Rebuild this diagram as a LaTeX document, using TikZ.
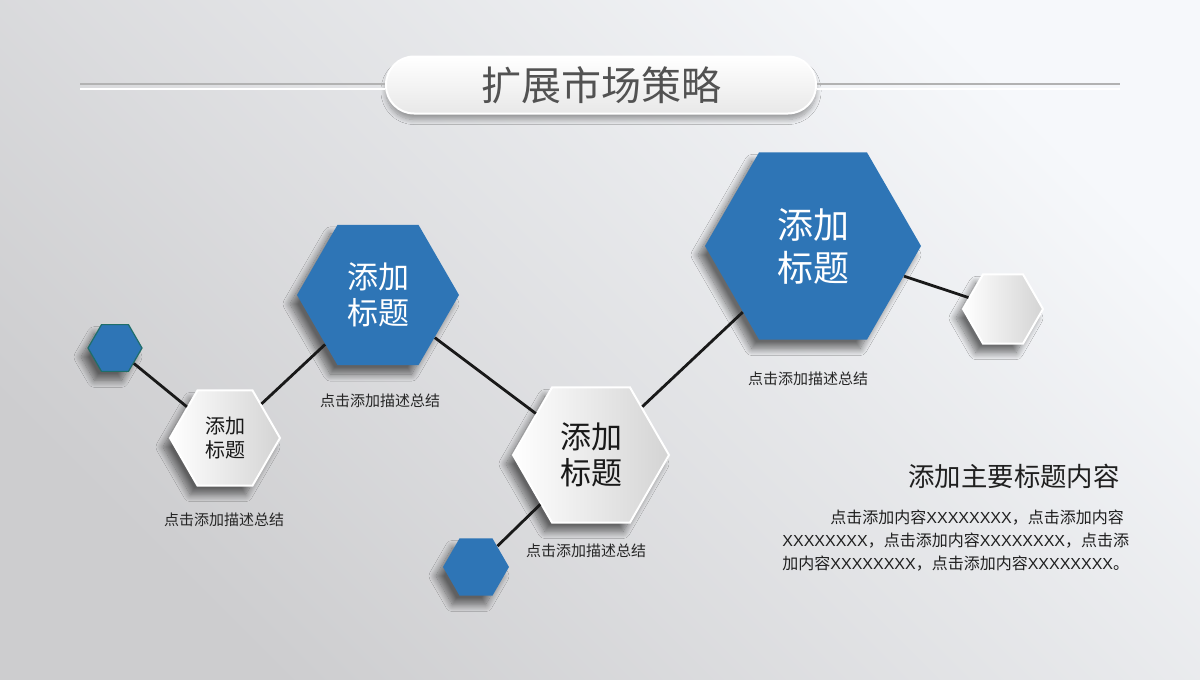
\documentclass[tikz,border=0pt]{standalone}
\usepackage{fontspec}
\setmainfont{Noto Sans CJK SC}
\newfontfamily\latinfont{Liberation Sans}
\usetikzlibrary{shapes.geometric,shadows.blur}
\definecolor{hexblue}{HTML}{2E75B6}
\definecolor{hexrim}{HTML}{1F6E6A}
\definecolor{bglight}{HTML}{F6F8FB}
\definecolor{bgdark}{HTML}{CDCDCF}
\newcommand{\xs}{{\latinfont XXXXXXXX}}
\tikzset{
  hexbase/.style={regular polygon, regular polygon sides=6, inner sep=0pt, align=center,
    blur shadow={shadow xshift=-3.5pt, shadow yshift=-4.5pt, shadow blur radius=3.5pt, shadow blur steps=14, shadow opacity=55}},
  bluehex/.style={hexbase, fill=hexblue, text=white},
  whitehex/.style={hexbase, left color=white, right color=black!17, draw=white, line width=1pt, text=black!90},
  link/.style={line width=1.4pt, black!90},
  caption/.style={font=\fontsize{7.5}{9}\selectfont, text=black!85},
  rule/.style={line width=1pt},
}

\begin{document}
\begin{tikzpicture}[x=0.5pt, y=-0.5pt]
			%%%%% START %%%%%
			
			\shade[top color=bglight, bottom color=bgdark, shading angle=-45] (0,0) rectangle (1200,680);
			\useasboundingbox (0,0) rectangle (1200,680);
			
			% title bar
			\node[minimum width=215pt, minimum height=28.5pt, rounded corners=14pt, draw=white, line width=1pt,
			      top color=white, bottom color=black!9, text=black!68, font=\fontsize{20}{24}\selectfont,
			      blur shadow={shadow xshift=0pt, shadow yshift=-3pt, shadow blur radius=2.5pt, shadow blur steps=10, shadow opacity=35}]
			      (title) at (601,85) {扩展市场策略};
			\draw[rule, black!30] (80,84) -- (title.west |- 0,84);
			\draw[rule, white] (80,89) -- (title.west |- 0,89);
			\draw[rule, black!30] (title.east |- 0,84) -- (1120,84);
			\draw[rule, white] (title.east |- 0,89) -- (1120,89);
			
			% hexagons
			\node[bluehex, minimum size=27pt, draw=hexrim, line width=0.6pt] (h1) at (115,348) {};
			\node[whitehex, minimum size=55pt, font=\fontsize{10}{12}\selectfont] (h2) at (225,438) {添加\\标题};
			\node[bluehex, minimum size=81pt, font=\fontsize{15.5}{18}\selectfont] (h3) at (378,295) {添加\\标题};
			\node[whitehex, minimum size=78pt, font=\fontsize{15.5}{18}\selectfont] (h4) at (591,455) {添加\\标题};
			\node[bluehex, minimum size=108pt, font=\fontsize{18}{21.5}\selectfont] (h5) at (813,246) {添加\\标题};
			\node[whitehex, minimum size=40pt] (h6) at (1003,309) {};
			\node[bluehex, minimum size=33pt] (h7) at (476,567) {};
			
			% links
			\draw[link] (h1) -- (h2);
			\draw[link] (h2) -- (h3);
			\draw[link] (h3) -- (h4);
			\draw[link] (h4) -- (h5);
			\draw[link] (h5) -- (h6);
			\draw[link] (h4) -- (h7);
			
			% captions
			\node[caption] (c2) at (224,520) {点击添加描述总结};
			\node[caption] (c3) at (380,401) {点击添加描述总结};
			\node[caption] (c4) at (586,551) {点击添加描述总结};
			\node[caption] (c5) at (808,379) {点击添加描述总结};
			
			% text block
			\node[anchor=east, inner sep=0pt, font=\fontsize{13.2}{15}\selectfont, text=black!88] (head) at (1120,476) {添加主要标题内容};
			\node[anchor=north west, align=left, inner sep=0pt, font=\fontsize{8}{11.5}\selectfont, text=black!88] (body) at (782,510)
			      {\hspace*{3em}点击添加内容\xs，点击添加内容\\\xs，点击添加内容\xs，点击添\\加内容\xs，点击添加内容\xs。};
			
			%%%%% END %%%%%
		\end{tikzpicture}
\end{document}
